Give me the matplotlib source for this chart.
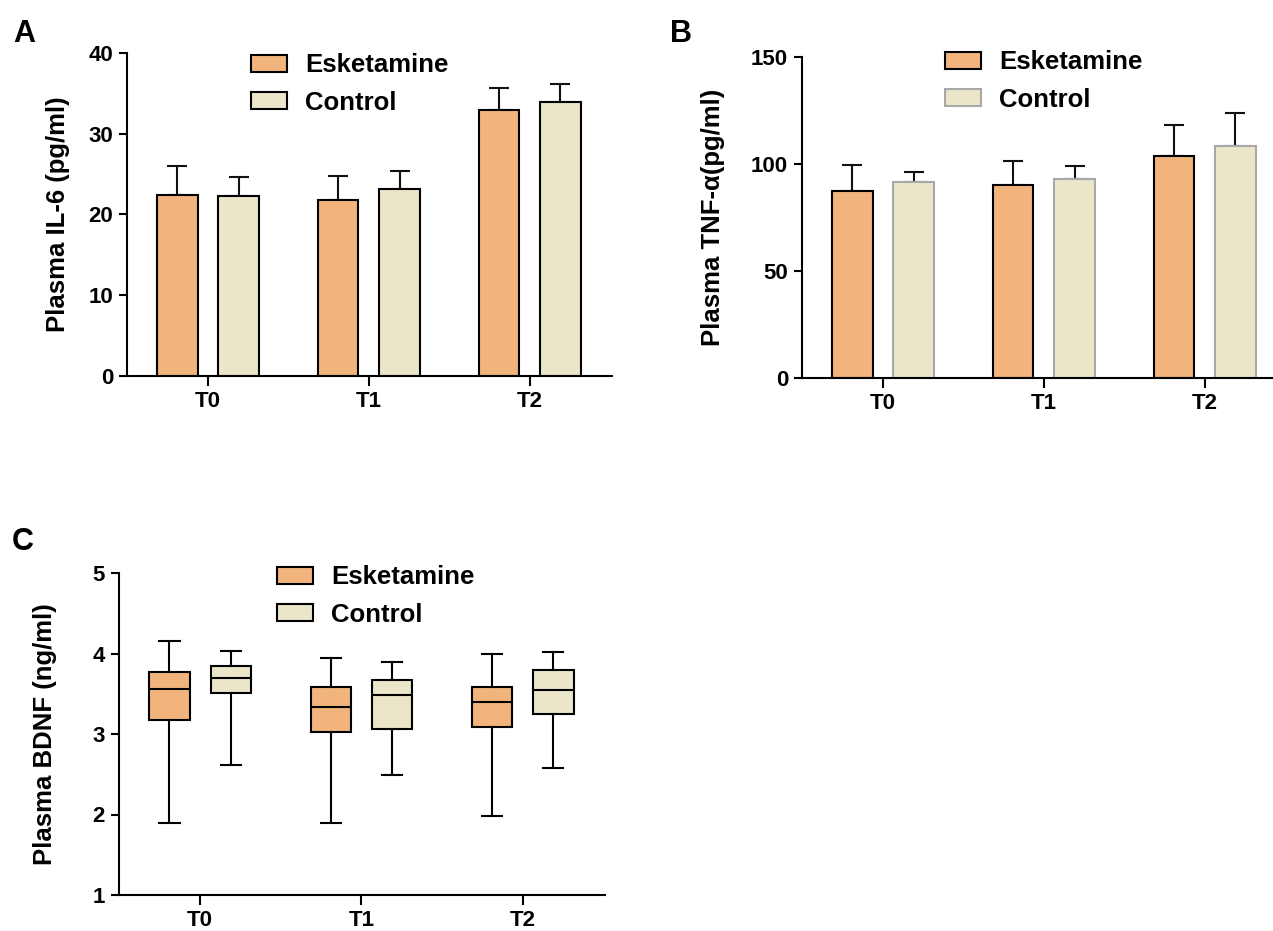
import matplotlib
matplotlib.use('Agg')
import matplotlib.pyplot as plt
from matplotlib.patches import Patch
import numpy as np

plt.rcParams['font.family'] = ['Liberation Sans', 'DejaVu Sans']
plt.rcParams['font.weight'] = 'bold'

categories = ['T0', 'T1', 'T2']
groups = ['Esketamine', 'Control']

# panel A - IL-6 (pg/ml), mean and upper error
il6_esk = [22.4, 21.8, 32.9]
il6_esk_err = [3.6, 3.0, 2.8]
il6_ctl = [22.3, 23.2, 33.9]
il6_ctl_err = [2.3, 2.2, 2.3]

# panel B - TNF-a (pg/ml)
tnf_esk = [87.4, 90.4, 103.7]
tnf_esk_err = [12.0, 11.0, 14.7]
tnf_ctl = [91.6, 93.2, 108.6]
tnf_ctl_err = [4.7, 5.9, 15.0]

# panel C - BDNF (ng/ml) box stats
bdnf_esk_lo = [1.89, 1.89, 1.98]
bdnf_esk_q1 = [3.17, 3.02, 3.09]
bdnf_esk_med = [3.565, 3.34, 3.40]
bdnf_esk_q3 = [3.77, 3.58, 3.59]
bdnf_esk_hi = [4.15, 3.94, 3.99]
bdnf_ctl_lo = [2.62, 2.49, 2.58]
bdnf_ctl_q1 = [3.51, 3.06, 3.25]
bdnf_ctl_med = [3.70, 3.49, 3.55]
bdnf_ctl_q3 = [3.85, 3.67, 3.80]
bdnf_ctl_hi = [4.03, 3.89, 4.02]

orange = '#F0B47C'
beige = '#EBE5C9'
W, H = 1273, 931

fig = plt.figure(figsize=(W / 100, H / 100), dpi=100)


def axes_px(left, right, top, bottom):
    return fig.add_axes([left / W, 1 - bottom / H, (right - left) / W, (bottom - top) / H])


def style(ax, ylim, yticks, ylabel, label_x):
    ax.set_xlim(-0.503, 2.51)
    ax.set_ylim(*ylim)
    ax.set_yticks(yticks)
    ax.set_xticks(range(len(categories)))
    ax.set_xticklabels(categories)
    for s in ['top', 'right']:
        ax.spines[s].set_visible(False)
    for s in ['left', 'bottom']:
        ax.spines[s].set_linewidth(1.5)
    ax.tick_params(axis='both', width=1.5, length=6, pad=4, labelsize=16)
    ax.tick_params(axis='x', length=7)
    ax.set_ylabel(ylabel, fontsize=18.5, fontweight='bold')
    ax.yaxis.set_label_coords(label_x, 0.5)


def legend(ax, x, y, ctl_edge='black'):
    handles = [Patch(facecolor=orange, edgecolor='black', linewidth=1.5),
               Patch(facecolor=beige, edgecolor=ctl_edge, linewidth=1.5)]
    ax.legend(handles, groups, loc='center left', bbox_to_anchor=(x / W, 1 - y / H),
              bbox_transform=fig.transFigure, frameon=False, borderpad=0,
              borderaxespad=0, handlelength=1.4, handleheight=0.66,
              handletextpad=0.7, labelspacing=0.52,
              prop={'size': 18.5, 'weight': 'bold'})


def bar_panel(ax, esk, esk_err, ctl, ctl_err, ctl_edge='black'):
    x = np.arange(len(categories))
    w = 0.25
    off = 0.19
    for xs, vals, errs, fc, ec in [(x - off, esk, esk_err, orange, 'black'),
                                   (x + off, ctl, ctl_err, beige, ctl_edge)]:
        ax.errorbar(xs, vals, yerr=[np.zeros(len(vals)), errs], fmt='none',
                    ecolor='#111111', elinewidth=1.5, capsize=7, capthick=1.5, zorder=1)
        ax.bar(xs, vals, width=w, color=fc, edgecolor=ec, linewidth=1.5, zorder=2)


# A
axA = axes_px(127, 612, 53, 376)
bar_panel(axA, il6_esk, il6_esk_err, il6_ctl, il6_ctl_err)
style(axA, (0, 40), [0, 10, 20, 30, 40], 'Plasma IL-6 (pg/ml)', -0.118)
legend(axA, 251, 84)

# B
axB = axes_px(802, 1287, 57, 378)
bar_panel(axB, tnf_esk, tnf_esk_err, tnf_ctl, tnf_ctl_err, ctl_edge='#A8A8A8')
style(axB, (0, 150), [0, 50, 100, 150], 'Plasma TNF-α(pg/ml)', -0.159)
legend(axB, 945, 81, ctl_edge='#A8A8A8')

# C
axC = axes_px(119, 605, 573, 895)
x = np.arange(len(categories))
for xs, fc, lo, q1, med, q3, hi in [
        (x - 0.19, orange, bdnf_esk_lo, bdnf_esk_q1, bdnf_esk_med, bdnf_esk_q3, bdnf_esk_hi),
        (x + 0.19, beige, bdnf_ctl_lo, bdnf_ctl_q1, bdnf_ctl_med, bdnf_ctl_q3, bdnf_ctl_hi)]:
    stats = [dict(whislo=lo[i], q1=q1[i], med=med[i], q3=q3[i], whishi=hi[i], fliers=[])
             for i in range(len(categories))]
    axC.bxp(stats, positions=xs, widths=0.25, patch_artist=True, showfliers=False,
            manage_ticks=False,
            boxprops=dict(facecolor=fc, edgecolor='black', linewidth=1.5),
            medianprops=dict(color='black', linewidth=1.5),
            whiskerprops=dict(color='black', linewidth=1.5),
            capprops=dict(color='black', linewidth=1.5))
style(axC, (1, 5), [1, 2, 3, 4, 5], 'Plasma BDNF (ng/ml)', -0.128)
legend(axC, 277, 596)

# panel letters
fig.text(13 / W, 1 - 42 / H, 'A', fontsize=22, fontweight='bold')
fig.text(670 / W, 1 - 42 / H, 'B', fontsize=22, fontweight='bold')
fig.text(12 / W, 1 - 550 / H, 'C', fontsize=22, fontweight='bold')

fig.savefig('out.png', dpi=100)
